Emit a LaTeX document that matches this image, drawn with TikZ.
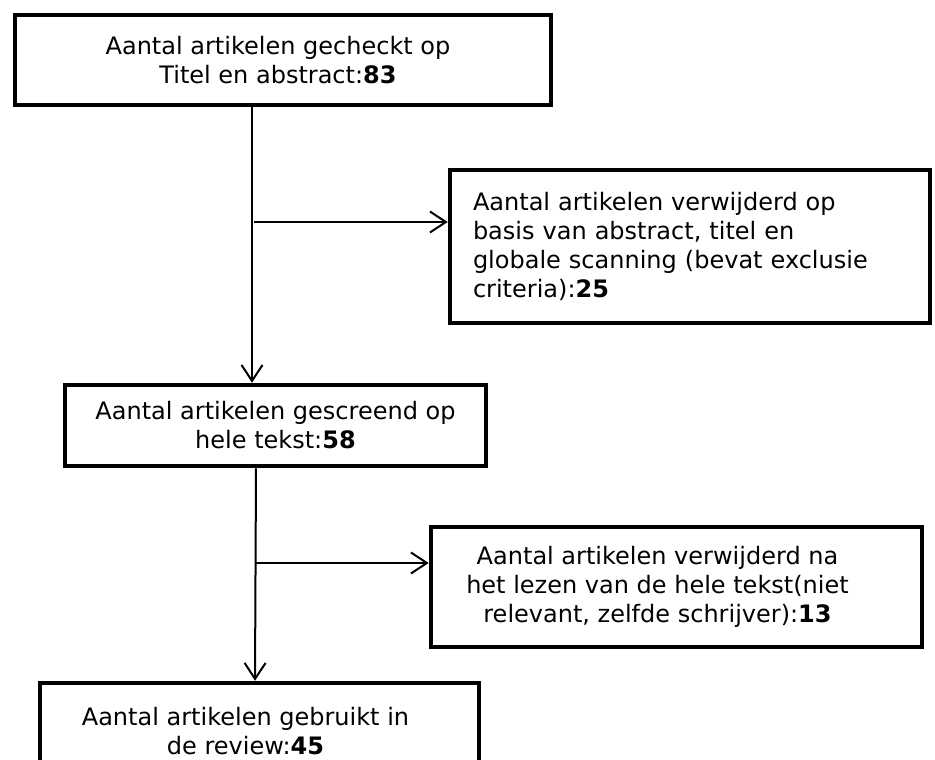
\documentclass[tikz,border=0pt]{standalone}
\usepackage{fontspec}
\setmainfont{DejaVu Sans}
\usetikzlibrary{arrows.meta}
\newcommand{\kadertekst}{\fontsize{24}{29}\selectfont}
\newcommand{\opschuif}[1]{\hbox to #1{}}

\begin{document}
\begin{tikzpicture}[x=1pt,y=-1pt,
		kader/.style={draw,line width=4.5pt,font=\kadertekst,align=center},
		pijl/.style={line width=2pt,-{Straight Barb[length=16pt,width=21pt,line width=2pt]}}]
			\path[use as bounding box] (0,0) rectangle (935,760);
			\clip (0,0) rectangle (935,760);
			\node[kader,minimum width=536pt,minimum height=90pt] (gecheckt) at (283,60)
				{Aantal artikelen gecheckt op\opschuif{10pt}\\Titel en abstract:\textbf{83}\opschuif{10pt}};
			\node[kader,align=left,text width=434pt,inner xsep=23pt,minimum height=153pt] (verwijderdA) at (690,246.5)
				{Aantal artikelen verwijderd op\\basis van abstract, titel en\\globale scanning (bevat exclusie\\criteria):\textbf{25}};
			\node[kader,minimum width=421pt,minimum height=81pt] (gescreend) at (275.5,425.5)
				{Aantal artikelen gescreend op\\hele tekst:\textbf{58}};
			\node[kader,minimum width=491pt,minimum height=120pt] (verwijderdB) at (676.5,587)
				{Aantal artikelen verwijderd na\opschuif{38pt}\\het lezen van de hele tekst(niet\opschuif{38pt}\\relevant, zelfde schrijver):\textbf{13}\opschuif{38pt}};
			\node[kader,minimum width=439pt,minimum height=96pt] (gebruikt) at (259.5,731)
				{Aantal artikelen gebruikt in\opschuif{28pt}\\de review:\textbf{45}\opschuif{28pt}};
			\coordinate (tak1) at (254,222);
			\coordinate (tak2) at (256,563);
			\draw[pijl] ([xshift=-31pt]gecheckt.south) -- ([xshift=-23.5pt]gescreend.north);
			\draw[pijl] (tak1) -- ([yshift=24.5pt]verwijderdA.west);
			\draw[pijl] ([xshift=-19.5pt]gescreend.south) -- ([xshift=-4.5pt]gebruikt.north);
			\draw[pijl] (tak2) -- ([yshift=24pt]verwijderdB.west);
		\end{tikzpicture}
\end{document}
